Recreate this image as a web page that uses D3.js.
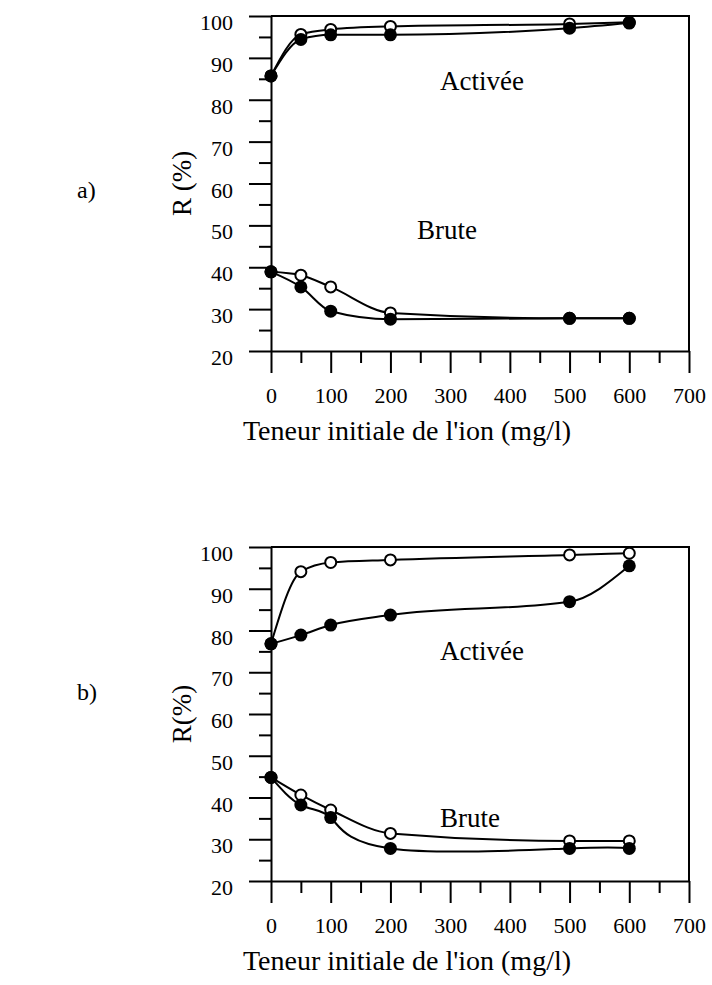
<!DOCTYPE html>
<html>
<head>
<meta charset="utf-8">
<script src="https://cdn.jsdelivr.net/npm/d3@7"></script>
<style>
  body { margin: 0; background: #fff; }
</style>
</head>
<body>
<div id="chart"></div>
<script>
// Data
const conc = [0, 50, 100, 200, 500, 600];           // mg/l
const xTicks = [0, 100, 200, 300, 400, 500, 600, 700];
const xMinor = [50, 150, 250, 350, 450, 550, 650];
const yTicks = [20, 30, 40, 50, 60, 70, 80, 90, 100];
const yMinor = [25, 35, 45, 55, 65, 75, 85, 95];

const aActiveeOpen   = [85.7, 95.6, 96.8, 97.5, 98.1, 98.5];
const aActiveeFilled = [85.7, 94.4, 95.5, 95.5, 97.1, 98.3];
const aBruteOpen     = [38.9, 38.1, 35.3, 29.1, 27.8, 27.8];
const aBruteFilled   = [38.9, 35.3, 29.5, 27.6, 27.8, 27.8];

const bActiveeOpen   = [76.8, 94.1, 96.3, 96.9, 98.1, 98.5];
const bActiveeFilled = [76.8, 78.9, 81.3, 83.7, 86.9, 95.5];
const bBruteOpen     = [44.8, 40.6, 37.0, 31.4, 29.6, 29.6];
const bBruteFilled   = [44.8, 38.2, 35.2, 27.8, 27.8, 27.8];

const W = 712, H = 985;
const left = 271, right = 689;
const serif = "Liberation Serif";

const panels = [
    {
        tag: "a)", tagY: 198, yTitle: "R (%)",
        top: 16, bottom: 351,
        series: [
            {values: aActiveeOpen,   filled: false, curve: d3.curveMonotoneX},
            {values: aBruteOpen,     filled: false, curve: d3.curveMonotoneX},
            {values: aActiveeFilled, filled: true,  curve: d3.curveMonotoneX},
            {values: aBruteFilled,   filled: true,  curve: d3.curveMonotoneX},
        ],
        notes: [{text: "Activée", x: 283, y: 82.3}, {text: "Brute", x: 244.5, y: 46.8}],
    },
    {
        tag: "b)", tagY: 700, yTitle: "R(%)",
        top: 547, bottom: 881,
        series: [
            {values: bActiveeOpen,   filled: false, curve: d3.curveMonotoneX},
            {values: bBruteOpen,     filled: false, curve: d3.curveMonotoneX},
            {values: bActiveeFilled, filled: true,  curve: d3.curveMonotoneX},
            {values: bBruteFilled,   filled: true,  curve: d3.curveNatural},
        ],
        notes: [{text: "Activée", x: 283, y: 73}, {text: "Brute", x: 283, y: 33}],
    },
];

const svg = d3.select("#chart").append("svg")
    .attr("width", W)
    .attr("height", H);

svg.append("rect").attr("width", W).attr("height", H).attr("fill", "#fff");

panels.forEach(p => {
    const x = d3.scaleLinear().domain([0, 700]).range([left, right]);
    const y = d3.scaleLinear().domain([20, 100]).range([p.bottom, p.top]);
    const g = svg.append("g");

    // frame (top + right)
    g.append("path")
        .attr("d", `M${left},${p.top}H${right}V${p.bottom}`)
        .attr("fill", "none").attr("stroke", "#000").attr("stroke-width", 2);

    // x axis, major + minor ticks
    const xAxisG = g.append("g").attr("transform", `translate(0,${p.bottom})`)
        .call(d3.axisBottom(x).tickValues(xTicks).tickSize(22).tickSizeOuter(0).tickFormat(d3.format("d")));
    xAxisG.selectAll("text").attr("y", 52).attr("dy", 0);
    g.append("g").attr("transform", `translate(0,${p.bottom})`)
        .call(d3.axisBottom(x).tickValues(xMinor).tickSize(12).tickFormat(""))
        .call(a => a.select(".domain").remove());

    // y axis, major + minor ticks
    const yAxisG = g.append("g").attr("transform", `translate(${left},0)`)
        .call(d3.axisLeft(y).tickValues(yTicks).tickSize(22).tickSizeOuter(0));
    yAxisG.selectAll("text").attr("x", -38).attr("dy", 13.5);
    g.append("g").attr("transform", `translate(${left},0)`)
        .call(d3.axisLeft(y).tickValues(yMinor).tickSize(12).tickFormat(""))
        .call(a => a.select(".domain").remove());

    g.selectAll(".domain, .tick line").attr("stroke", "#000").attr("stroke-width", 2);
    g.selectAll(".tick text").attr("fill", "#000").style("font-size", "22px");

    // curves
    p.series.forEach(s => {
        const line = d3.line().x((d, i) => x(conc[i])).y(d => y(d)).curve(s.curve);
        g.append("path").datum(s.values)
            .attr("d", line)
            .attr("fill", "none").attr("stroke", "#000").attr("stroke-width", 2);
    });

    // markers: open first, filled on top
    p.series.filter(s => !s.filled).forEach(s => {
        g.selectAll(null).data(s.values).join("circle")
            .attr("cx", (d, i) => x(conc[i])).attr("cy", d => y(d))
            .attr("r", 5.5).attr("fill", "#fff").attr("stroke", "#000").attr("stroke-width", 2);
    });
    p.series.filter(s => s.filled).forEach(s => {
        g.selectAll(null).data(s.values).join("circle")
            .attr("cx", (d, i) => x(conc[i])).attr("cy", d => y(d))
            .attr("r", 6.5).attr("fill", "#000");
    });

    // annotations
    p.notes.forEach(n => {
        g.append("text").attr("x", x(n.x)).attr("y", y(n.y))
            .style("font-size", "27px").text(n.text);
    });

    // axis titles
    g.append("text")
        .attr("x", 407).attr("y", p.bottom + 89)
        .attr("text-anchor", "middle").style("font-size", "28px")
        .text("Teneur initiale de l'ion (mg/l)");

    g.append("text")
        .attr("transform", `translate(191,${(p.top + p.bottom) / 2}) rotate(-90)`)
        .attr("text-anchor", "middle").style("font-size", "27px")
        .text(p.yTitle);

    g.append("text").attr("x", 77).attr("y", p.tagY)
        .style("font-size", "24px").text(p.tag);
});

// every label in the serif face
svg.selectAll("text").style("font-family", serif).attr("fill", "#000");
</script>
</body>
</html>
